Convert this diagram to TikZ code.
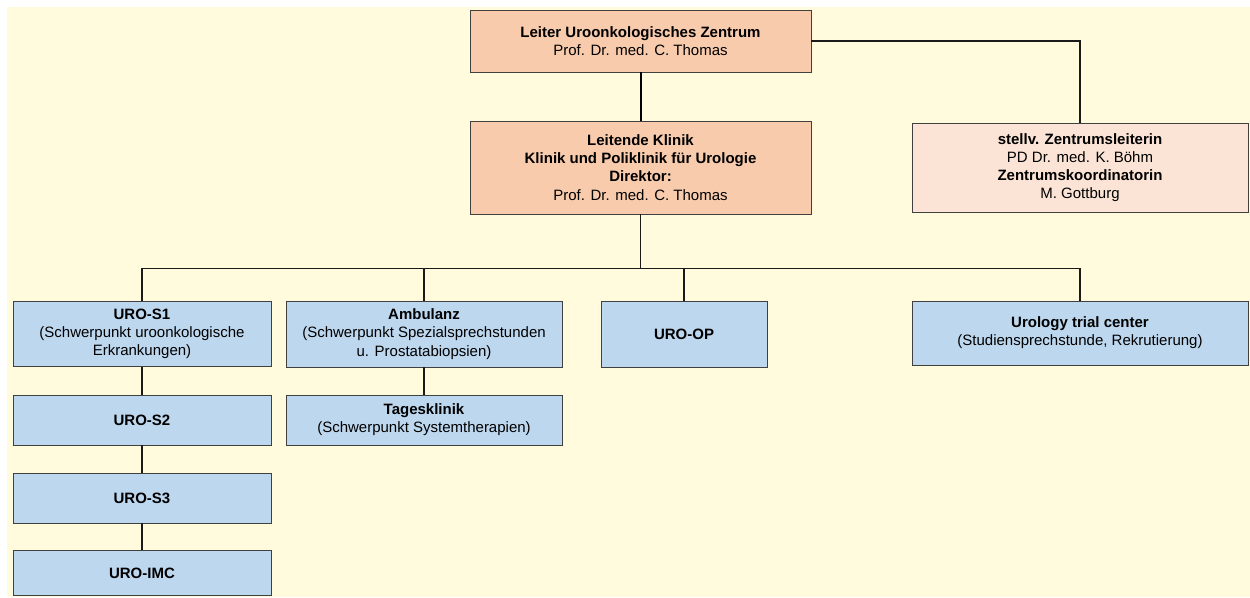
\documentclass[tikz,border=0pt]{standalone}
\usepackage{fontspec}
\setmainfont{Liberation Sans}
\definecolor{cream}{HTML}{FFFBDC}
\definecolor{orangebox}{HTML}{F8CBAD}
\definecolor{peachbox}{HTML}{FBE4D5}
\definecolor{bluebox}{HTML}{BDD7EE}
\definecolor{edgegray}{HTML}{404040}
\definecolor{linecol}{HTML}{1A1A1A}
\tikzset{
  orgbox/.style={draw=edgegray, line width=0.9pt, rectangle, align=center, inner sep=2pt,
    font=\fontsize{15}{18.2}\selectfont, text=black},
  lead/.style={orgbox, fill=orangebox, minimum width=341pt},
  deputy/.style={orgbox, fill=peachbox, minimum width=336pt, minimum height=89pt},
  unit/.style={orgbox, fill=bluebox},
  conn/.style={draw=linecol, line width=1.3pt},
  thickconn/.style={draw=black, line width=2pt},
}
\begin{document}
\begin{tikzpicture}[x=1pt,y=-1pt]
\useasboundingbox (0,0) rectangle (1250,597);
\fill[cream] (7,7) rectangle (1250,597);

\node[lead, minimum height=62pt] (top) at (640.5,41) {\textbf{Leiter Uroonkologisches Zentrum}\\Prof. Dr. med. C. Thomas};
\node[lead, minimum height=93pt] (klinik) at (640.5,167.5) {\textbf{Leitende Klinik}\\\textbf{Klinik und Poliklinik für Urologie}\\\textbf{Direktor:}\\Prof. Dr. med. C. Thomas};
\node[deputy] (stellv) at (1080,167.5) {\textbf{stellv. Zentrumsleiterin}\\PD Dr. med. K. Böhm\\\textbf{Zentrumskoordinatorin}\\M. Gottburg};

\node[unit, minimum width=258pt, minimum height=65pt] (s1) at (142,334) {\textbf{URO-S1}\\(Schwerpunkt uroonkologische\\Erkrankungen)};
\node[unit, minimum width=276pt, minimum height=66pt] (amb) at (424,334) {\textbf{Ambulanz}\\(Schwerpunkt Spezialsprechstunden\\u. Prostatabiopsien)};
\node[unit, minimum width=166pt, minimum height=66pt] (op) at (684,334) {\textbf{URO-OP}};
\node[unit, minimum width=336pt, minimum height=64pt] (utc) at (1080,333) {\textbf{Urology trial center}\\(Studiensprechstunde, Rekrutierung)};

\node[unit, minimum width=258pt, minimum height=50pt] (s2) at (142,420) {\textbf{URO-S2}};
\node[unit, minimum width=276pt, minimum height=50pt] (tag) at (424,420) {\textbf{Tagesklinik}\\(Schwerpunkt Systemtherapien)};
\node[unit, minimum width=258pt, minimum height=50pt] (s3) at (142,498) {\textbf{URO-S3}};
\node[unit, minimum width=258pt, minimum height=45pt] (imc) at (142,573) {\textbf{URO-IMC}};

\coordinate (busmid) at (640.5,268.5);
\coordinate (busL) at (142,268.5);
\coordinate (busR) at (1080,268.5);

\draw[thickconn] (top.south) -- (klinik.north);
\draw[conn] (top.east) -| (stellv.north);
\draw[conn] (klinik.south) -- (busmid);
\draw[conn] (s1.north) |- (busR) -- (utc.north);
\draw[conn] (amb.north |- busL) -- (amb.north);
\draw[conn] (op.north |- busL) -- (op.north);
\draw[conn] (s1.south) -- (s2.north);
\draw[conn] (s2.south) -- (s3.north);
\draw[conn] (s3.south) -- (imc.north);
\draw[conn] (amb.south) -- (tag.north);
\end{tikzpicture}
\end{document}
